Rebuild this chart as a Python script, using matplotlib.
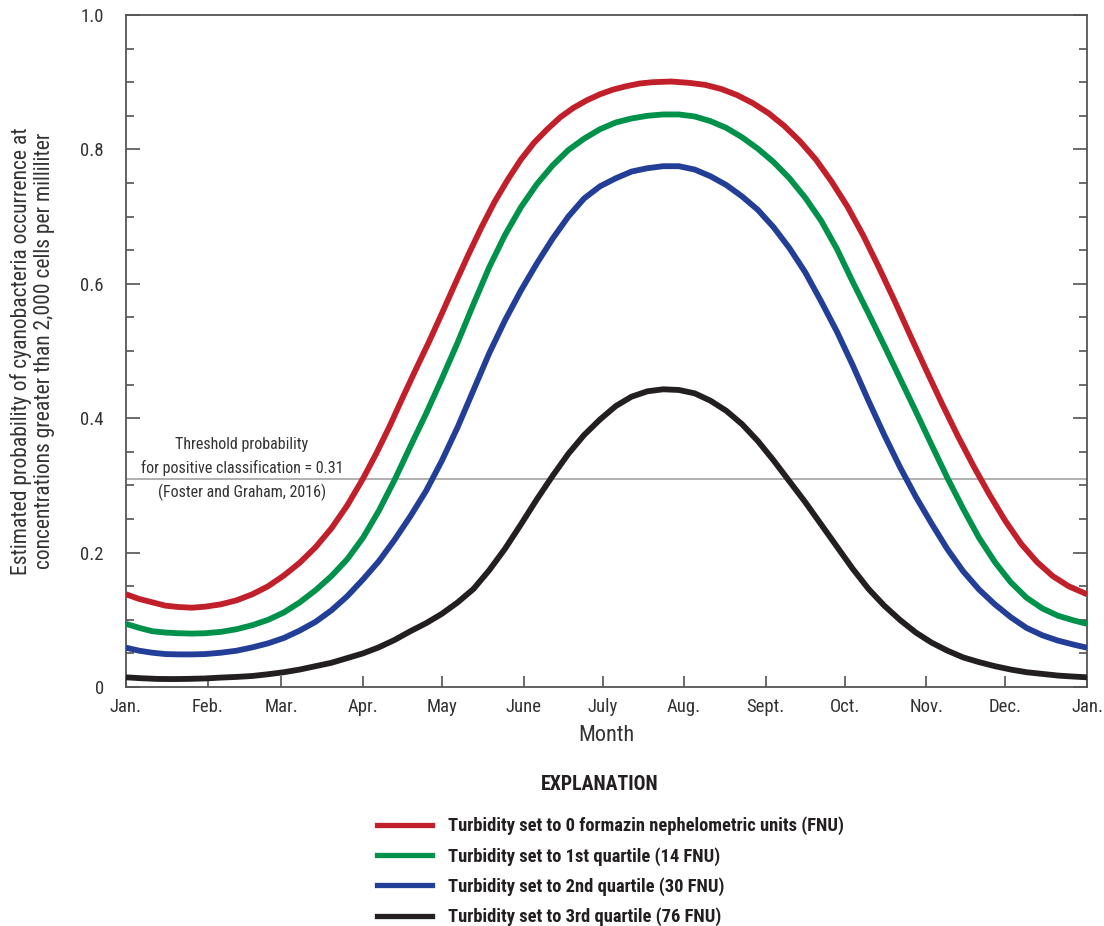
import matplotlib
matplotlib.use("Agg")
import matplotlib.pyplot as plt
from matplotlib import font_manager
from matplotlib.lines import Line2D
from matplotlib.ticker import MultipleLocator

# pick a narrow sans if one is installed
FONT = 'DejaVu Sans'
for name in ['Liberation Sans Narrow', 'Roboto Condensed', 'DejaVu Sans Condensed']:
    try:
        font_manager.findfont(name, fallback_to_default=False)
        FONT = name
        break
    except ValueError:
        pass
plt.rcParams['font.family'] = [FONT, 'DejaVu Sans']

# day of year -> estimated probability, one set per turbidity level
red_days = [0, 5, 10, 15, 20, 25, 30, 36, 42, 48, 54, 60, 66, 72, 78, 84, 90, 95, 100, 105,
            110, 115, 120, 125, 130, 135, 140, 145, 150, 155, 160, 165, 170, 175, 180, 185,
            190, 195, 200, 207, 214, 220, 226, 232, 238, 244, 250, 256, 262, 268, 274, 280,
            286, 292, 298, 304, 310, 316, 322, 328, 334, 340, 346, 352, 358, 365]
red_prob = [0.138, 0.131, 0.126, 0.121, 0.119, 0.118, 0.1195, 0.123, 0.129, 0.138, 0.150, 0.166,
            0.185, 0.208, 0.236, 0.270, 0.310, 0.347, 0.387, 0.430, 0.472, 0.513, 0.556, 0.600,
            0.643, 0.684, 0.722, 0.755, 0.785, 0.810, 0.830, 0.848, 0.862, 0.873, 0.882, 0.889,
            0.894, 0.898, 0.900, 0.901, 0.899, 0.896, 0.890, 0.881, 0.869, 0.854, 0.835, 0.812,
            0.785, 0.752, 0.715, 0.672, 0.624, 0.574, 0.522, 0.471, 0.421, 0.373, 0.328, 0.286,
            0.247, 0.213, 0.186, 0.165, 0.150, 0.138]

green_days = [0, 5, 10, 15, 20, 25, 30, 36, 42, 48, 54, 60, 66, 72, 78, 84, 90, 96, 102, 108,
              114, 120, 126, 132, 138, 144, 150, 156, 162, 168, 174, 180, 186, 192, 198, 204,
              210, 216, 222, 228, 234, 240, 246, 252, 258, 264, 270, 276, 282, 288, 294, 300,
              306, 312, 318, 324, 330, 336, 342, 348, 354, 360, 365]
green_prob = [0.094, 0.088, 0.083, 0.081, 0.080, 0.0795, 0.080, 0.082, 0.086, 0.092, 0.100, 0.111,
              0.126, 0.144, 0.165, 0.190, 0.222, 0.262, 0.308, 0.358, 0.407, 0.459, 0.513, 0.570,
              0.625, 0.673, 0.714, 0.748, 0.776, 0.799, 0.816, 0.830, 0.840, 0.846, 0.850, 0.852,
              0.852, 0.849, 0.842, 0.832, 0.818, 0.801, 0.781, 0.757, 0.728, 0.694, 0.652, 0.603,
              0.556, 0.508, 0.459, 0.410, 0.360, 0.311, 0.265, 0.222, 0.186, 0.156, 0.133, 0.117,
              0.106, 0.099, 0.094]

blue_days = [0, 5, 10, 15, 20, 25, 30, 36, 42, 48, 54, 60, 66, 72, 78, 84, 90, 96, 102, 108,
             114, 120, 126, 132, 138, 144, 150, 156, 162, 168, 174, 180, 186, 192, 198, 204,
             210, 216, 222, 228, 234, 240, 246, 252, 258, 264, 270, 276, 282, 288, 294, 300,
             306, 312, 318, 324, 330, 336, 342, 348, 354, 360, 365]
blue_prob = [0.0585, 0.054, 0.051, 0.049, 0.0485, 0.0485, 0.049, 0.051, 0.054, 0.059, 0.065, 0.073,
             0.084, 0.097, 0.114, 0.135, 0.160, 0.187, 0.219, 0.254, 0.292, 0.337, 0.387, 0.442,
             0.497, 0.546, 0.590, 0.630, 0.667, 0.700, 0.727, 0.745, 0.757, 0.767, 0.772, 0.775,
             0.775, 0.770, 0.760, 0.747, 0.730, 0.710, 0.684, 0.653, 0.617, 0.574, 0.529, 0.479,
             0.426, 0.375, 0.327, 0.283, 0.243, 0.205, 0.172, 0.145, 0.123, 0.104, 0.088, 0.077,
             0.069, 0.063, 0.0585]

black_days = [0, 6, 12, 18, 24, 30, 36, 42, 48, 54, 60, 66, 72, 78, 84, 90, 96, 102, 108, 114,
              120, 126, 132, 138, 144, 150, 156, 162, 168, 174, 180, 186, 192, 198, 204, 210,
              216, 222, 228, 234, 240, 246, 252, 258, 264, 270, 276, 282, 288, 294, 300, 306,
              312, 318, 324, 330, 336, 342, 348, 354, 360, 365]
black_prob = [0.0144, 0.013, 0.012, 0.0118, 0.0121, 0.0127, 0.014, 0.015, 0.0164, 0.019, 0.022,
              0.026, 0.031, 0.036, 0.043, 0.050, 0.059, 0.070, 0.083, 0.095, 0.109, 0.126, 0.146,
              0.174, 0.206, 0.242, 0.279, 0.314, 0.347, 0.375, 0.398, 0.418, 0.432, 0.440, 0.443,
              0.442, 0.437, 0.426, 0.411, 0.391, 0.366, 0.337, 0.306, 0.275, 0.242, 0.209, 0.176,
              0.146, 0.121, 0.0997, 0.081, 0.066, 0.054, 0.044, 0.037, 0.031, 0.026, 0.022, 0.0195,
              0.017, 0.0155, 0.0144]

labels = ['Turbidity set to 0 formazin nephelometric units (FNU)',
          'Turbidity set to 1st quartile (14 FNU)',
          'Turbidity set to 2nd quartile (30 FNU)',
          'Turbidity set to 3rd quartile (76 FNU)']
colors = ['#c1202a', '#00914a', '#233e96', '#231f20']

month_starts = [0, 31, 59, 90, 120, 151, 181, 212, 243, 273, 304, 334, 365]
month_names = ['Jan.', 'Feb.', 'Mar.', 'Apr.', 'May', 'June', 'July', 'Aug.',
               'Sept.', 'Oct.', 'Nov.', 'Dec.', 'Jan.']

threshold = 0.31

fig = plt.figure(figsize=(11.04, 9.26), dpi=100)
ax = fig.add_axes([126 / 1104, 1 - 687 / 926, (1087 - 126) / 1104, (687 - 15) / 926])

series = [(red_days, red_prob), (green_days, green_prob),
          (blue_days, blue_prob), (black_days, black_prob)]
ax.axhline(threshold, color='#9a9a9a', lw=1.1, zorder=1)
for (d, p), c in zip(series, colors):
    ax.plot(d, p, color=c, lw=4.2, solid_capstyle='butt', solid_joinstyle='round', zorder=3)

note_kw = dict(ha='center', va='center', fontsize=11.5, color='#333333')
ax.text(44, 0.361, 'Threshold probability', **note_kw)
ax.text(44, 0.326, 'for positive classification = 0.31', **note_kw)
ax.text(44, 0.290, '(Foster and Graham, 2016)', **note_kw)

ax.set_xlim(0, 365)
ax.set_ylim(0, 1.0)
ax.set_xticks(month_starts)
ax.set_xticklabels(month_names)
ax.set_yticks([0, 0.2, 0.4, 0.6, 0.8, 1.0])
ax.set_yticklabels(['0', '0.2', '0.4', '0.6', '0.8', '1.0'])
ax.yaxis.set_minor_locator(MultipleLocator(0.05))

for sp in ax.spines.values():
    sp.set_color('#555555')
    sp.set_linewidth(1.3)
ax.tick_params(axis='x', which='major', direction='in', length=8, width=1.1, color='#444444',
               labelsize=13.5, pad=8, labelcolor='#333333')
ax.tick_params(axis='y', which='major', direction='in', length=10, width=1.1, color='#444444',
               labelsize=13.5, pad=16, right=True, labelcolor='#333333')
ax.tick_params(axis='y', which='minor', direction='in', length=6, width=1.1, color='#444444', right=True)

ax.set_xlabel('Month', fontsize=16, color='#333333')
ax.xaxis.set_label_coords(0.5, -0.056)
ax.set_ylabel('Estimated probability of cyanobacteria occurrence at\n'
              'concentrations greater than 2,000 cells per milliliter',
              fontsize=15.5, color='#333333', linespacing=1.1)
ax.yaxis.set_label_coords(-0.074, 0.5)

fig.text(600 / 1104, 1 - 785 / 926, 'EXPLANATION', ha='center', va='center',
         fontsize=14.3, fontweight='bold', color='#231f20')
handles = [Line2D([], [], color=c, lw=3.8) for c in colors]
fig.legend(handles, labels, loc='upper left', bbox_to_anchor=(360 / 1104, 1 - 800 / 926),
           frameon=False, handlelength=3.0, handletextpad=0.87, labelspacing=0.62,
           prop={'weight': 'bold', 'size': 13.3}, labelcolor='#231f20')

fig.savefig('out.png', dpi=100)
